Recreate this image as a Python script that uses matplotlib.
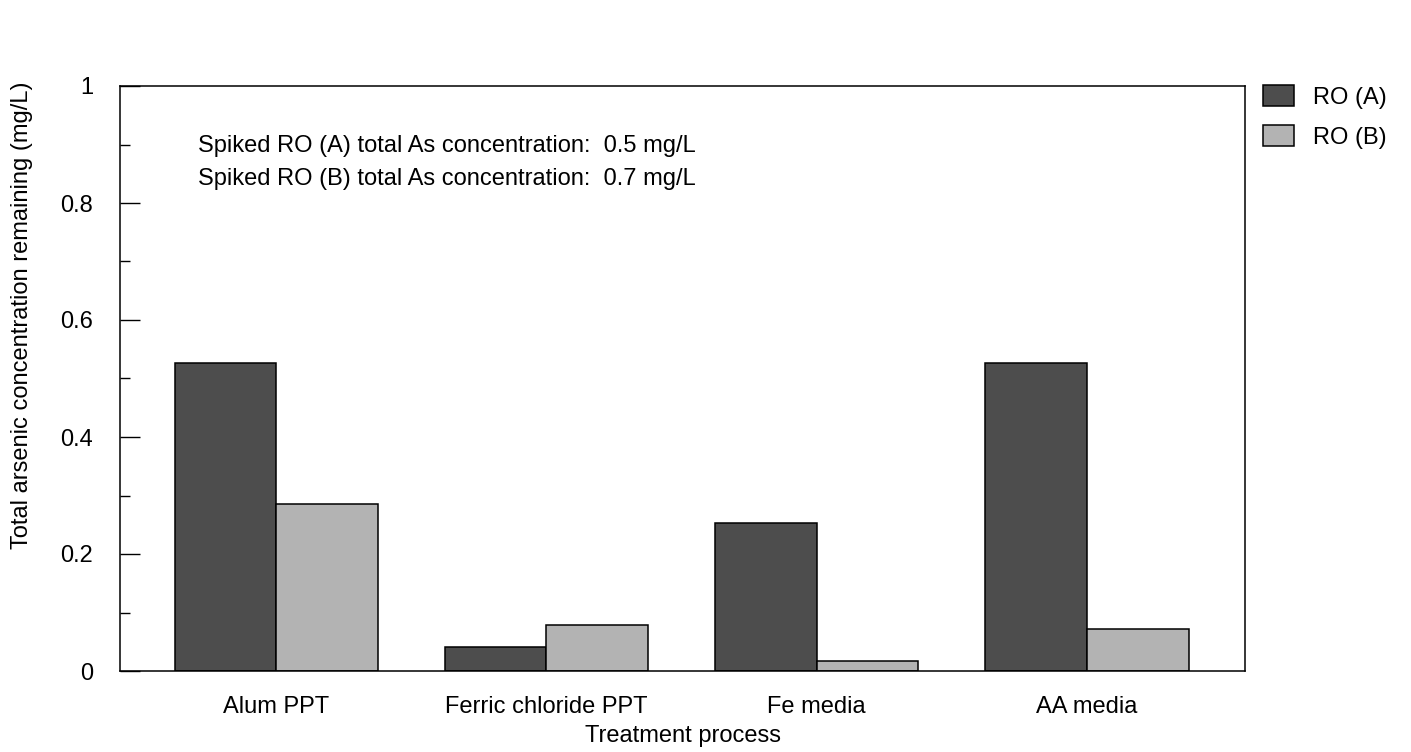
import numpy as np
import matplotlib.pyplot as plt
from matplotlib.ticker import MultipleLocator

plt.rcParams.update({
    "font.family": ["Liberation Sans", "DejaVu Sans"],
    "font.size": 17,
})

processes = ["Alum PPT", "Ferric chloride PPT", "Fe media", "AA media"]
ro_a = [0.526, 0.041, 0.253, 0.526]
ro_b = [0.286, 0.078, 0.017, 0.072]
series_names = ["RO (A)", "RO (B)"]
note_lines = [
    "Spiked RO (A) total As concentration:  0.5 mg/L",
    "Spiked RO (B) total As concentration:  0.7 mg/L",
]
yticks = [0, 0.2, 0.4, 0.6, 0.8, 1.0]
ytick_labels = ["0", "0.2", "0.4", "0.6", "0.8", "1"]

W, H = 1411, 752
fig = plt.figure(figsize=(W / 100, H / 100), dpi=100)
ax = fig.add_axes([120 / W, 1 - 671 / H, 1125 / W, 585 / H])

x = np.arange(len(processes))
width = 0.376
ax.bar(x - width / 2, ro_a, width, color="#4d4d4d", edgecolor="black", linewidth=1.1, label=series_names[0])
ax.bar(x + width / 2, ro_b, width, color="#b3b3b3", edgecolor="black", linewidth=1.1, label=series_names[1])

ax.set_xlim(-0.578, 3.585)
ax.set_ylim(0, 1)
ax.set_xticks(x)
ax.set_xticklabels(processes)
ax.tick_params(axis="x", length=0, pad=18)
ax.set_yticks(yticks)
ax.set_yticklabels(ytick_labels)
ax.yaxis.set_minor_locator(MultipleLocator(0.1))
ax.tick_params(axis="y", which="major", direction="in", length=14.4, width=1, pad=19.5)
ax.tick_params(axis="y", which="minor", direction="in", length=7.2, width=1)
for s in ax.spines.values():
    s.set_linewidth(1.1)

# note lines, placed in pixels from the top-left corner
for i, line in enumerate(note_lines):
    fig.text(198 / W, 1 - (146 + 33 * i) / H, line, ha="left", va="center")

fig.text(683 / W, 1 - 736 / H, "Treatment process", ha="center", va="center")
fig.text(22 / W, 1 - 315 / H, "Total arsenic concentration remaining (mg/L)",
         rotation=90, ha="center", va="center")

fig.legend(loc="upper left", bbox_to_anchor=(1263 / W, 1 - 85 / H), frameon=False,
           borderpad=0, borderaxespad=0, handlelength=1.31, handleheight=1.0,
           handletextpad=0.8, labelspacing=0.7, fontsize=17)

fig.savefig("out.png", dpi=100)
